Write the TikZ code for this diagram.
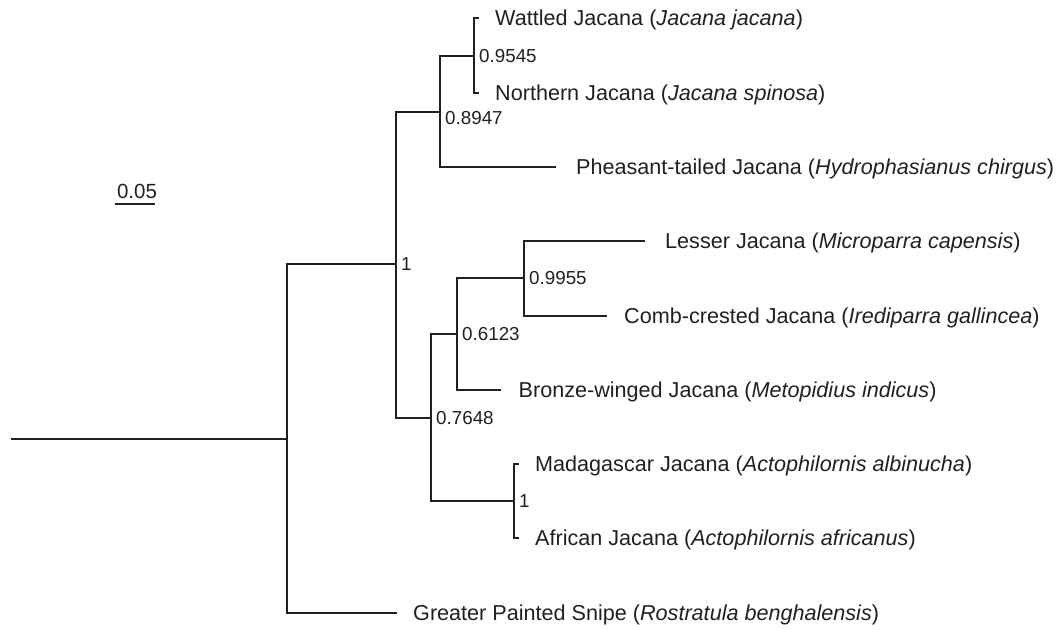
\documentclass[tikz,border=0pt]{standalone}
\usepackage{fontspec}
\setmainfont{Liberation Sans}
\usepackage{xcolor}
\definecolor{treeink}{HTML}{231F20}
\tikzset{
	branch/.style={draw=treeink, line width=1.8pt},
	taxon/.style={anchor=base west, inner sep=0pt, xshift=16pt, yshift=-7.5pt, text=treeink, font=\fontsize{21.6}{25}\selectfont},
	support/.style={anchor=west, inner sep=0pt, xshift=5pt, text=treeink, font=\fontsize{18.8}{22}\selectfont},
}

\begin{document}
\begin{tikzpicture}[x=1pt, y=-1pt]
			\useasboundingbox (0,0) rectangle (1059,629);
			\coordinate (root) at (11,439);
			\coordinate (n0) at (287,439);
			\coordinate (n1) at (396,264);
			\coordinate (n2) at (440,112);
			\coordinate (n3) at (474,56);
			\coordinate (n4) at (431,418);
			\coordinate (n5) at (457,334);
			\coordinate (n6) at (524,278);
			\coordinate (n7) at (514,501);
			\coordinate (wattled) at (479,18);
			\coordinate (northern) at (479,93);
			\coordinate (pheasant) at (556,167);
			\coordinate (lesser) at (645,241);
			\coordinate (combcrested) at (607,316);
			\coordinate (bronze) at (501,390);
			\coordinate (madagascar) at (519,464);
			\coordinate (african) at (519,538);
			\coordinate (greater) at (397,613);
			\draw [branch] (root) -- (n0);
			\draw [branch] (n0) |- (n1);
			\draw [branch] (n0) |- (greater);
			\draw [branch] (n1) |- (n2);
			\draw [branch] (n1) |- (n4);
			\draw [branch] (n2) |- (n3);
			\draw [branch] (n2) |- (pheasant);
			\draw [branch] (n3) |- (wattled);
			\draw [branch] (n3) |- (northern);
			\draw [branch] (n4) |- (n5);
			\draw [branch] (n4) |- (n7);
			\draw [branch] (n5) |- (n6);
			\draw [branch] (n5) |- (bronze);
			\draw [branch] (n6) |- (lesser);
			\draw [branch] (n6) |- (combcrested);
			\draw [branch] (n7) |- (madagascar);
			\draw [branch] (n7) |- (african);
			\node [taxon] (wattledname) at (wattled) {Wattled Jacana (\textit{Jacana jacana})};
			\node [taxon] (northernname) at (northern) {Northern Jacana (\textit{Jacana spinosa})};
			\node [taxon, xshift=4pt] (pheasantname) at (pheasant) {Pheasant-tailed Jacana (\textit{Hydrophasianus chirgus})};
			\node [taxon, xshift=4pt] (lessername) at (lesser) {Lesser Jacana (\textit{Microparra capensis})};
			\node [taxon, xshift=1pt] (combcrestedname) at (combcrested) {Comb-crested Jacana (\textit{Irediparra gallincea})};
			\node [taxon, xshift=1.5pt] (bronzename) at (bronze) {Bronze-winged Jacana (\textit{Metopidius indicus})};
			\node [taxon] (madagascarname) at (madagascar) {Madagascar Jacana (\textit{Actophilornis albinucha})};
			\node [taxon] (africanname) at (african) {African Jacana (\textit{Actophilornis africanus})};
			\node [taxon] (greatername) at (greater) {Greater Painted Snipe (\textit{Rostratula benghalensis})};
			\node [support] (s3) at (n3) {0.9545};
			\node [support, yshift=-6.5pt] (s2) at (n2) {0.8947};
			\node [support] (s1) at (n1) {1};
			\node [support] (s6) at (n6) {0.9955};
			\node [support] (s5) at (n5) {0.6123};
			\node [support] (s4) at (n4) {0.7648};
			\node [support] (s7) at (n7) {1};
			\coordinate (barleft) at (115,204);
			\coordinate (barright) at (155,204);
			\draw [branch] (barleft) -- (barright);
			\node [inner sep=0pt, text=treeink, font=\fontsize{20.5}{24}\selectfont] (barlabel) at (137,191) {0.05};
		\end{tikzpicture}
\end{document}
